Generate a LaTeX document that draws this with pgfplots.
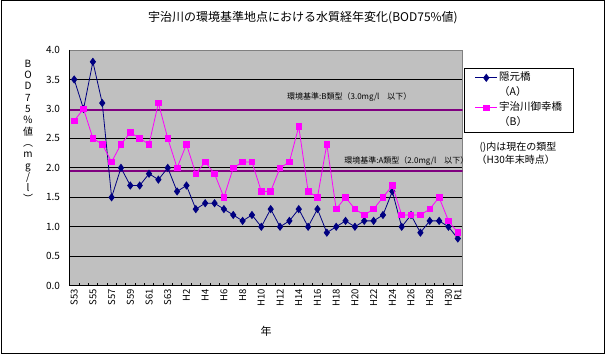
\documentclass[border=0pt]{standalone}
\usepackage{fontspec}
\setmainfont{Noto Sans CJK JP}
\usepackage{pgfplots}
\pgfplotsset{compat=1.18}
\definecolor{plotbg}{HTML}{C0C0C0}
\definecolor{navyb}{HTML}{000080}
\definecolor{magp}{HTML}{FF00FF}
\definecolor{stdpur}{HTML}{800080}
\definecolor{bordgray}{HTML}{808080}
\begin{document}
\begin{tikzpicture}[x=1pt,y=1pt]
\useasboundingbox (0,0) rectangle (607,356);
\draw[black, line width=1pt] (1,3) rectangle (604,355);
\node[font=\fontsize{12}{14}\selectfont] at (303,338) {宇治川の環境基準地点における水質経年変化(BOD75\%値)};
\node[align=center, font=\fontsize{10}{11.3}\selectfont] at (28,224.5) {B\\O\\D\\7\\5\\\%\\値\\︵\\m\\g\\/\\l\\︶};
\node[font=\fontsize{11}{13}\selectfont] at (266,25) {年};
\node[anchor=west, font=\fontsize{10}{12}\selectfont] at (476,209) {()内は現在の類型};
\node[anchor=west, font=\fontsize{10}{12}\selectfont] at (473,196) {（H30年末時点）};
\begin{axis}[
  at={(69.5pt,70.3pt)}, anchor=south west,
  scale only axis, width=393pt, height=235.7pt,
  xmin=-0.5, xmax=41.5, ymin=0, ymax=4,
  axis background/.style={fill=plotbg},
  axis line style={bordgray, line width=0.8pt},
  clip mode=individual,
  ymajorgrids, major grid style={black, line width=0.75pt},
  ytick={0,0.5,...,4},
  /pgf/number format/assume math mode=true,
  yticklabel style={/pgf/number format/.cd, fixed, fixed zerofill, precision=1, /tikz/.cd, font=\fontsize{10}{12}\selectfont, xshift=-6pt},
  xtick={0,2,...,40,41},
  xticklabels={S53,S55,S57,S59,S61,S63,H2,H4,H6,H8,H10,H12,H14,H16,H18,H20,H22,H24,H26,H28,H30,R1},
  xticklabel style={rotate=90, anchor=east, font=\fontsize{9.5}{11}\selectfont},
  minor xtick={-0.5,0.5,...,41.5},
  major tick length=0pt, minor tick length=3pt,
  tick align=inside, tick pos=left,
  minor tick style={black, line width=0.6pt},
  legend style={at={(1.005,0.924)}, anchor=north west, draw=black, line width=0.8pt, fill=white,
    font=\fontsize{10.5}{12}\selectfont, row sep=0pt, inner xsep=10pt, inner ysep=2pt,
    nodes={inner sep=1.5pt, text height=9pt, text depth=3pt}},
  legend cell align=left,
  legend image code/.code={\draw[mark repeat=2,mark phase=2] plot coordinates {(0pt,0pt) (11pt,0pt) (22pt,0pt)};},
]
\addplot[forget plot, stdpur, line width=2.5pt] coordinates {(-0.5,2.98) (41.5,2.98)};
\addplot[forget plot, stdpur, line width=2.5pt] coordinates {(-0.5,1.95) (41.5,1.95)};
\addplot[navyb, line width=0.8pt, mark=diamond*, mark size=3.5pt, mark options={fill=navyb}] coordinates {
(0,3.5) (1,3.0) (2,3.8) (3,3.1) (4,1.5) (5,2.0) (6,1.7) (7,1.7) (8,1.9) (9,1.8)
(10,2.0) (11,1.6) (12,1.7) (13,1.3) (14,1.4) (15,1.4) (16,1.3) (17,1.2) (18,1.1) (19,1.2)
(20,1.0) (21,1.3) (22,1.0) (23,1.1) (24,1.3) (25,1.0) (26,1.3) (27,0.9) (28,1.0) (29,1.1)
(30,1.0) (31,1.1) (32,1.1) (33,1.2) (34,1.6) (35,1.0) (36,1.2) (37,0.9) (38,1.1) (39,1.1)
(40,1.0) (41,0.8)};
\addlegendentry{隠元橋}
\addlegendimage{empty legend}
\addlegendentry{（A）}
\addplot[magp, line width=0.8pt, mark=square*, mark size=2.8pt, mark options={fill=magp}] coordinates {
(0,2.8) (1,3.0) (2,2.5) (3,2.4) (4,2.1) (5,2.4) (6,2.6) (7,2.5) (8,2.4) (9,3.1)
(10,2.5) (11,2.0) (12,2.4) (13,1.9) (14,2.1) (15,1.9) (16,1.5) (17,2.0) (18,2.1) (19,2.1)
(20,1.6) (21,1.6) (22,2.0) (23,2.1) (24,2.7) (25,1.6) (26,1.5) (27,2.4) (28,1.3) (29,1.5)
(30,1.3) (31,1.2) (32,1.3) (33,1.5) (34,1.7) (35,1.2) (36,1.2) (37,1.2) (38,1.3) (39,1.5)
(40,1.1) (41,0.9)};
\addlegendentry{宇治川御幸橋}
\addlegendimage{empty legend}
\addlegendentry{（B）}
\draw[black, line width=0.8pt] (rel axis cs:0,1) -- (rel axis cs:0,0) -- (rel axis cs:1,0);
\node[font=\fontsize{8}{9}\selectfont] at (axis cs:29.4,3.2) {環境基準:B類型（3.0mg/l　以下）};
\node[font=\fontsize{8}{9}\selectfont] at (axis cs:35.5,2.12) {環境基準:A類型（2.0mg/l　以下）};
\end{axis}
\end{tikzpicture}
\end{document}
